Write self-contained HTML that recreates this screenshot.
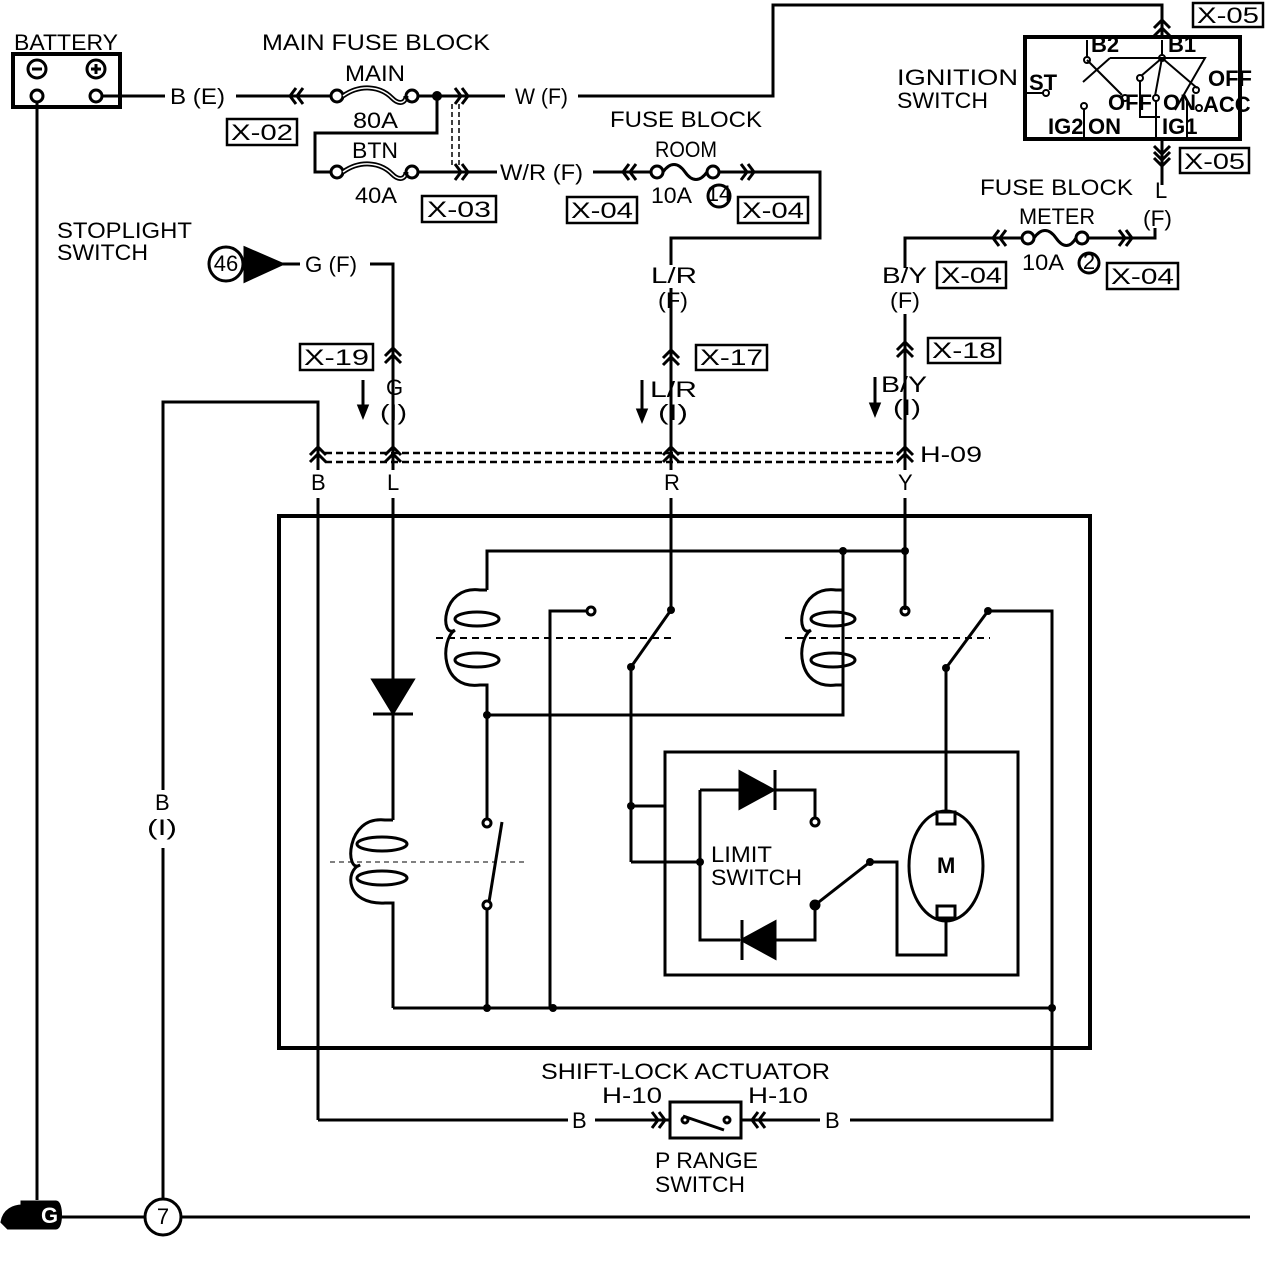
<!DOCTYPE html>
<html><head><meta charset="utf-8"><style>
html,body{margin:0;padding:0;background:#fff}
svg{display:block}
text{font-family:"Liberation Sans",sans-serif;font-size:22px;fill:#000}
.b{font-weight:bold}
</style></head><body>
<svg width="1280" height="1276" viewBox="0 0 1280 1276" xmlns="http://www.w3.org/2000/svg">
<g fill="none" stroke="#000" stroke-width="3">
<rect x="13" y="54" width="107" height="53" stroke-width="4"/>
<circle cx="37" cy="69" r="9"/><line x1="32" y1="69" x2="42" y2="69"/>
<circle cx="96" cy="69" r="9"/><line x1="91" y1="69" x2="101" y2="69"/><line x1="96" y1="64" x2="96" y2="74"/>
<circle cx="37" cy="96" r="6"/><circle cx="96" cy="96" r="6"/>
<polyline points="102,96 165,96"/>
<line x1="37" y1="102" x2="37" y2="1200"/>
<line x1="236" y1="96" x2="331" y2="96"/>
<polyline points="296,88 290,96 296,104"/><polyline points="303,88 297,96 303,104"/>
<circle cx="337" cy="96" r="6"/>
<path d="M343 96 C360 84 380 86 392 98 C400 106 406 102 406 96" stroke-width="5"/>
<path d="M343 96 C360 84 380 86 392 98 C400 106 406 102 406 96" stroke="#fff" stroke-width="1.5"/>
<circle cx="412" cy="96" r="6"/>
<line x1="418" y1="96" x2="505" y2="96"/>
<polyline points="455,88 461,96 455,104"/><polyline points="462,88 468,96 462,104"/>
<polyline points="578,96 773,96 773,5 1162,5 1162,37"/>
<polyline points="1154,28 1162,20 1170,28"/><polyline points="1154,36 1162,28 1170,36"/>
<polyline points="437,96 437,133 315,133 315,172 331,172"/>
<circle cx="337" cy="172" r="6"/>
<path d="M343 172 C360 160 380 162 392 174 C400 182 406 178 406 172" stroke-width="5"/>
<path d="M343 172 C360 160 380 162 392 174 C400 182 406 178 406 172" stroke="#fff" stroke-width="1.5"/>
<circle cx="412" cy="172" r="6"/>
<line x1="418" y1="172" x2="497" y2="172"/>
<polyline points="455,164 461,172 455,180"/><polyline points="462,164 468,172 462,180"/>
<line x1="452" y1="104" x2="452" y2="166" stroke-width="1.5" stroke-dasharray="5,3"/>
<line x1="459" y1="104" x2="459" y2="166" stroke-width="1.5" stroke-dasharray="5,3"/>
<line x1="593" y1="172" x2="651" y2="172"/>
<polyline points="629,164 623,172 629,180"/><polyline points="636,164 630,172 636,180"/>
<circle cx="657" cy="172" r="6"/>
<path d="M663 172 C670 162 678 162 685 172 C692 182 700 182 707 172"/>
<circle cx="713" cy="172" r="6"/>
<polyline points="719,172 820,172 820,238 671,238 671,265"/>
<polyline points="741,164 747,172 741,180"/><polyline points="748,164 754,172 748,180"/>
<circle cx="719" cy="196" r="11"/>
<polyline points="905,268 905,238 1022,238"/>
<polyline points="999,230 993,238 999,246"/><polyline points="1006,230 1000,238 1006,246"/>
<circle cx="1028" cy="238" r="6"/>
<path d="M1034 238 C1041 228 1049 228 1056 238 C1063 248 1070 248 1076 238"/>
<circle cx="1082" cy="238" r="6"/>
<polyline points="1088,238 1155,238 1155,228"/>
<polyline points="1119,230 1125,238 1119,246"/><polyline points="1126,230 1132,238 1126,246"/>
<circle cx="1089" cy="263" r="10"/>
<rect x="1025" y="37" width="215" height="102" stroke-width="4"/>
<polyline points="1162,140 1162,185"/>
<polyline points="1154,146 1162,154 1170,146"/><polyline points="1154,152 1162,160 1170,152"/><polyline points="1154,158 1162,166 1170,158"/>
<g stroke-width="2">
<polyline points="1087,40 1087,58"/><circle cx="1087" cy="60" r="3"/>
<line x1="1087" y1="60" x2="1122" y2="95"/><line x1="1083" y1="82" x2="1110" y2="58"/>
<circle cx="1125" cy="98" r="3"/>
<line x1="1162" y1="40" x2="1162" y2="56"/><circle cx="1162" cy="58" r="3"/>
<line x1="1162" y1="58" x2="1141" y2="76"/><line x1="1162" y1="58" x2="1155" y2="96"/><line x1="1162" y1="58" x2="1197" y2="88"/>
<polyline points="1110,58 1205,58 1175,110"/>
<circle cx="1140" cy="78" r="3"/><circle cx="1156" cy="98" r="3"/><circle cx="1196" cy="90" r="3"/><circle cx="1199" cy="108" r="3"/>
<polyline points="1140,80 1140,117 1160,117"/><line x1="1156" y1="100" x2="1156" y2="138"/>
<line x1="1187" y1="100" x2="1187" y2="138"/>
<line x1="1084" y1="108" x2="1084" y2="138"/><circle cx="1084" cy="106" r="3"/>
<polyline points="1025,93 1044,93"/><circle cx="1046" cy="93" r="3"/>
</g>
<circle cx="226" cy="264" r="17"/>
<polygon points="245,248 282,264 245,281" fill="#000"/>
<line x1="282" y1="264" x2="300" y2="264"/>
<polyline points="370,264 393,264 393,440"/>
<polyline points="385,356 393,348 401,356"/><polyline points="385,363 393,355 401,363"/>
<line x1="671" y1="288" x2="671" y2="440"/>
<polyline points="663,358 671,350 679,358"/><polyline points="663,365 671,357 679,365"/>
<line x1="905" y1="314" x2="905" y2="440"/>
<polyline points="897,350 905,342 913,350"/><polyline points="897,357 905,349 913,357"/>
<line x1="363" y1="380" x2="363" y2="408"/><polygon points="359,406 367,406 363,416" fill="#000"/>
<line x1="642" y1="380" x2="642" y2="412"/><polygon points="638,410 646,410 642,420" fill="#000"/>
<line x1="875" y1="377" x2="875" y2="406"/><polygon points="871,404 879,404 875,414" fill="#000"/>
<g stroke-width="2.5" stroke-dasharray="7,4"><line x1="325" y1="453" x2="898" y2="453"/><line x1="325" y1="462" x2="898" y2="462"/></g>
<g>
<line x1="318" y1="440" x2="318" y2="470"/><polyline points="310,455 318,447 326,455"/><polyline points="310,462 318,454 326,462"/>
<line x1="393" y1="440" x2="393" y2="470"/><polyline points="385,455 393,447 401,455"/><polyline points="385,462 393,454 401,462"/>
<line x1="671" y1="440" x2="671" y2="470"/><polyline points="663,455 671,447 679,455"/><polyline points="663,462 671,454 679,462"/>
<line x1="905" y1="440" x2="905" y2="470"/><polyline points="897,455 905,447 913,455"/><polyline points="897,462 905,454 913,462"/>
</g>
<polyline points="318,447 318,402 163,402 163,790"/>
<line x1="163" y1="848" x2="163" y2="1199"/>
<circle cx="163" cy="1217" r="18"/>
<line x1="60" y1="1217" x2="145" y2="1217"/><line x1="181" y1="1217" x2="1250" y2="1217"/>
<rect x="279" y="516" width="811" height="532" stroke-width="4"/>
<line x1="318" y1="498" x2="318" y2="1120"/>
<line x1="393" y1="498" x2="393" y2="680"/>
<line x1="671" y1="498" x2="671" y2="610"/>
<line x1="905" y1="498" x2="905" y2="610"/>
<polygon points="373,680 413,680 393,713" fill="#000"/><line x1="373" y1="714" x2="413" y2="714"/>
<line x1="393" y1="714" x2="393" y2="820"/>
<path d="M393 820 L385 820 C345 815 345 875 360 865 C345 870 345 905 385 903 L393 903 L393 1008"/>
<ellipse cx="382" cy="844" rx="25" ry="7"/><ellipse cx="382" cy="878" rx="25" ry="7"/>
<line x1="330" y1="862" x2="525" y2="862" stroke-width="1" stroke-dasharray="5,4"/>
<polyline points="487,590 487,551 905,551"/>
<path d="M487 590 L480 590 C440 585 440 640 455 630 C440 640 440 690 480 685 L487 685 L487 820"/>
<ellipse cx="477" cy="619" rx="22" ry="7"/><ellipse cx="477" cy="660" rx="22" ry="7"/>
<line x1="436" y1="638" x2="675" y2="638" stroke-width="2" stroke-dasharray="7,5"/>
<polyline points="487,715 843,715 843,551"/>
<path d="M843 590 L836 590 C796 585 796 640 811 630 C796 640 796 690 836 685 L843 685"/>
<ellipse cx="833" cy="619" rx="22" ry="7"/><ellipse cx="833" cy="660" rx="22" ry="7"/>
<line x1="785" y1="638" x2="990" y2="638" stroke-width="2" stroke-dasharray="7,5"/>
<polyline points="550,1008 550,611 587,611"/><circle cx="591" cy="611" r="4"/>
<line x1="631" y1="667" x2="671" y2="610"/><line x1="631" y1="667" x2="631" y2="862"/>
<line x1="905" y1="551" x2="905" y2="607"/><circle cx="905" cy="611" r="4"/>
<line x1="946" y1="668" x2="988" y2="611"/><polyline points="988,611 1052,611 1052,1120 850,1120"/>
<line x1="946" y1="668" x2="946" y2="820"/>
<circle cx="487" cy="823" r="4"/><line x1="502" y1="822" x2="489" y2="902"/><circle cx="487" cy="905" r="4"/>
<line x1="487" y1="909" x2="487" y2="1008"/>
<polyline points="393,1008 1052,1008"/>
<rect x="665" y="752" width="353" height="223"/>
<polyline points="631,806 665,806"/><polyline points="631,862 700,862"/>
<polyline points="700,790 700,940 740,940"/>
<polyline points="700,790 740,790"/><polygon points="740,772 740,808 773,790" fill="#000"/><line x1="775" y1="770" x2="775" y2="810"/>
<polyline points="775,790 815,790 815,818"/><circle cx="815" cy="822" r="4"/>
<polygon points="775,922 775,958 742,940" fill="#000"/><line x1="742" y1="920" x2="742" y2="960"/>
<polyline points="775,940 815,940 815,905"/><circle cx="815" cy="905" r="4"/>
<line x1="815" y1="905" x2="870" y2="862"/><polyline points="870,862 897,862 897,955 946,955 946,920"/>
<ellipse cx="946" cy="866" rx="37" ry="55"/>
<rect x="937" y="812" width="18" height="12" fill="#fff"/><rect x="937" y="906" width="18" height="12" fill="#fff"/>
<line x1="318" y1="1120" x2="568" y2="1120"/><line x1="595" y1="1120" x2="670" y2="1120"/>
<polyline points="652,1112 658,1120 652,1128"/><polyline points="659,1112 665,1120 659,1128"/>
<rect x="670" y="1102" width="71" height="36"/>
<circle cx="685" cy="1120" r="3"/><circle cx="727" cy="1120" r="3"/><line x1="683" y1="1116" x2="724" y2="1130"/>
<line x1="741" y1="1120" x2="820" y2="1120"/>
<polyline points="758,1112 752,1120 758,1128"/><polyline points="765,1112 759,1120 765,1128"/>
<path d="M2 1222 C4 1210 14 1206 22 1206 L22 1202 L56 1202 C62 1202 62 1228 56 1228 L22 1228 L8 1228 Z" fill="#000"/>
</g>
<g fill="#000" stroke="none">
<circle cx="437" cy="96" r="5"/>
<circle cx="843" cy="551" r="4"/><circle cx="905" cy="551" r="4"/>
<circle cx="671" cy="610" r="4"/><circle cx="631" cy="667" r="4"/>
<circle cx="988" cy="611" r="4"/><circle cx="946" cy="668" r="4"/>
<circle cx="487" cy="715" r="4"/><circle cx="631" cy="806" r="4"/><circle cx="700" cy="862" r="4"/>
<circle cx="870" cy="862" r="4"/><circle cx="815" cy="905" r="3"/>
<circle cx="487" cy="1008" r="4"/><circle cx="553" cy="1008" r="4"/><circle cx="1052" cy="1008" r="4"/>
</g>
<text x="41" y="1223" font-size="20" fill="#fff" class="b" style="fill:#fff">G</text>
<g lengthAdjust="spacingAndGlyphs">
<text x="14" y="50" textLength="104" lengthAdjust="spacingAndGlyphs">BATTERY</text>
<text x="262" y="50" textLength="228" lengthAdjust="spacingAndGlyphs">MAIN FUSE BLOCK</text>
<text x="345" y="81" textLength="60" lengthAdjust="spacingAndGlyphs">MAIN</text>
<text x="170" y="104" textLength="55" lengthAdjust="spacingAndGlyphs">B (E)</text>
<text x="515" y="104" textLength="53" lengthAdjust="spacingAndGlyphs">W (F)</text>
<text x="353" y="128" textLength="45" lengthAdjust="spacingAndGlyphs">80A</text>
<text x="352" y="158" textLength="46" lengthAdjust="spacingAndGlyphs">BTN</text>
<text x="355" y="203" textLength="42" lengthAdjust="spacingAndGlyphs">40A</text>
<text x="500" y="180" textLength="83" lengthAdjust="spacingAndGlyphs">W/R (F)</text>
<text x="610" y="127" textLength="152" lengthAdjust="spacingAndGlyphs">FUSE BLOCK</text>
<text x="655" y="157" textLength="62" lengthAdjust="spacingAndGlyphs">ROOM</text>
<text x="651" y="203" textLength="41" lengthAdjust="spacingAndGlyphs">10A</text>
<text x="719" y="201" font-size="14" text-anchor="middle">14</text>
<text x="897" y="85" textLength="121" lengthAdjust="spacingAndGlyphs">IGNITION</text>
<text x="897" y="108" textLength="91" lengthAdjust="spacingAndGlyphs">SWITCH</text>
<text x="980" y="195" textLength="153" lengthAdjust="spacingAndGlyphs">FUSE BLOCK</text>
<text x="1019" y="224" textLength="76" lengthAdjust="spacingAndGlyphs">METER</text>
<text x="1155" y="198">L</text>
<text x="1143" y="226" textLength="29" lengthAdjust="spacingAndGlyphs">(F)</text>
<text x="1022" y="270" textLength="42" lengthAdjust="spacingAndGlyphs">10A</text>
<text x="1089" y="269" font-size="16" text-anchor="middle">2</text>
<text x="57" y="238" textLength="135" lengthAdjust="spacingAndGlyphs">STOPLIGHT</text>
<text x="57" y="260" textLength="91" lengthAdjust="spacingAndGlyphs">SWITCH</text>
<text x="226" y="271" font-size="19" text-anchor="middle">46</text>
<text x="305" y="272" textLength="52" lengthAdjust="spacingAndGlyphs">G (F)</text>
<text x="651" y="283" textLength="46" lengthAdjust="spacingAndGlyphs">L/R</text>
<text x="658" y="308" textLength="30" lengthAdjust="spacingAndGlyphs">(F)</text>
<text x="882" y="283" textLength="45" lengthAdjust="spacingAndGlyphs">B/Y</text>
<text x="890" y="308" textLength="30" lengthAdjust="spacingAndGlyphs">(F)</text>
<text x="386" y="395">G</text>
<text x="380" y="420" textLength="27" lengthAdjust="spacingAndGlyphs">(I)</text>
<text x="650" y="397" textLength="47" lengthAdjust="spacingAndGlyphs">L/R</text>
<text x="658" y="420" textLength="30" lengthAdjust="spacingAndGlyphs">(I)</text>
<text x="881" y="392" textLength="46" lengthAdjust="spacingAndGlyphs">B/Y</text>
<text x="893" y="415" textLength="28" lengthAdjust="spacingAndGlyphs">(I)</text>
<text x="920" y="462" textLength="62" lengthAdjust="spacingAndGlyphs">H-09</text>
<text x="311" y="490">B</text><text x="387" y="490">L</text><text x="664" y="490">R</text><text x="898" y="490">Y</text>
<text x="155" y="810">B</text><text x="147" y="835" textLength="30" lengthAdjust="spacingAndGlyphs">(I)</text>
<text x="163" y="1224" font-size="18" text-anchor="middle">7</text>
<text x="711" y="862" textLength="61" lengthAdjust="spacingAndGlyphs">LIMIT</text>
<text x="711" y="885" textLength="91" lengthAdjust="spacingAndGlyphs">SWITCH</text>
<text x="937" y="873" font-size="18" class="b">M</text>
<text x="541" y="1079" textLength="289" lengthAdjust="spacingAndGlyphs">SHIFT-LOCK ACTUATOR</text>
<text x="602" y="1103" textLength="60" lengthAdjust="spacingAndGlyphs">H-10</text>
<text x="748" y="1103" textLength="60" lengthAdjust="spacingAndGlyphs">H-10</text>
<text x="572" y="1128">B</text><text x="825" y="1128">B</text>
<text x="655" y="1168" textLength="103" lengthAdjust="spacingAndGlyphs">P RANGE</text>
<text x="655" y="1192" textLength="90" lengthAdjust="spacingAndGlyphs">SWITCH</text>
<g font-size="12" class="b"><text x="1029" y="90">ST</text><text x="1091" y="52">B2</text><text x="1168" y="52">B1</text>
<text x="1108" y="110">OFF</text><text x="1208" y="86">OFF</text><text x="1163" y="110">ON</text><text x="1203" y="112">ACC</text>
<text x="1048" y="134">IG2</text><text x="1088" y="134">ON</text><text x="1162" y="134">IG1</text></g>
</g>
<g fill="none" stroke="#000" stroke-width="2.5">
<rect x="227" y="119" width="70" height="26"/><rect x="422" y="196" width="74" height="26"/>
<rect x="567" y="197" width="70" height="26"/><rect x="738" y="197" width="70" height="26"/>
<rect x="1193" y="3" width="70" height="24"/><rect x="1180" y="148" width="69" height="25"/>
<rect x="937" y="262" width="69" height="26"/><rect x="1107" y="263" width="71" height="26"/>
<rect x="300" y="344" width="73" height="26"/><rect x="696" y="345" width="71" height="25"/>
<rect x="928" y="338" width="72" height="25"/>
</g>
<g>
<text x="231" y="140" textLength="62" lengthAdjust="spacingAndGlyphs">X-02</text><text x="427" y="217" textLength="64" lengthAdjust="spacingAndGlyphs">X-03</text>
<text x="571" y="218" textLength="62" lengthAdjust="spacingAndGlyphs">X-04</text><text x="742" y="218" textLength="62" lengthAdjust="spacingAndGlyphs">X-04</text>
<text x="1197" y="23" textLength="62" lengthAdjust="spacingAndGlyphs">X-05</text><text x="1184" y="169" textLength="61" lengthAdjust="spacingAndGlyphs">X-05</text>
<text x="941" y="283" textLength="61" lengthAdjust="spacingAndGlyphs">X-04</text><text x="1111" y="284" textLength="63" lengthAdjust="spacingAndGlyphs">X-04</text>
<text x="304" y="365" textLength="65" lengthAdjust="spacingAndGlyphs">X-19</text><text x="700" y="365" textLength="63" lengthAdjust="spacingAndGlyphs">X-17</text>
<text x="932" y="358" textLength="64" lengthAdjust="spacingAndGlyphs">X-18</text>
</g>
</svg>
</body></html>
